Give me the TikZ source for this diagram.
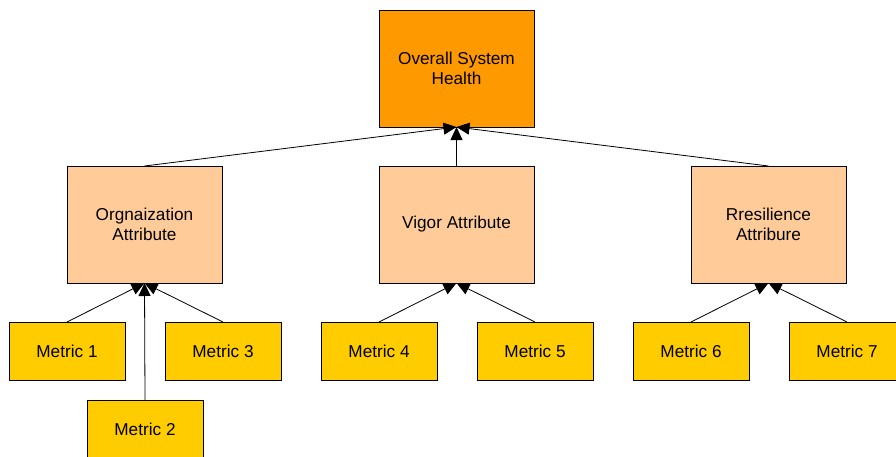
\documentclass[tikz,border=0pt]{standalone}
\usepackage{fontspec}
\setmainfont{Liberation Sans}
\usetikzlibrary{arrows.meta}
\definecolor{topc}{HTML}{FF9900}
\definecolor{attrc}{HTML}{FFCC99}
\definecolor{metc}{HTML}{FFCC00}
\begin{document}
\begin{tikzpicture}[x=1pt,y=-1pt,
  box/.style={draw=black,line width=0.9pt,inner sep=0pt,outer sep=0pt,align=center,
    font=\fontsize{17.2}{20.5}\selectfont},
  topbox/.style={box,fill=topc,minimum width=155pt,minimum height=117pt},
  attrbox/.style={box,fill=attrc,minimum width=155pt,minimum height=117pt},
  metbox/.style={box,fill=metc,minimum width=116pt,minimum height=58pt},
  link/.style={draw=black,line width=0.8pt,-{Triangle[length=13pt,width=12pt]}}]
\useasboundingbox (0,0) rectangle (896,456);
\clip (0,0) rectangle (896,456);
\node[topbox] (top) at (456.5,68.5) {Overall System\\Health};
\node[attrbox] (org) at (144.5,224.5) {Orgnaization\\Attribute};
\node[attrbox] (vig) at (456.5,224.5) {Vigor Attribute};
\node[attrbox] (res) at (768.5,224.5) {Rresilience\\Attribure};
\node[metbox] (m1) at (67,351) {Metric 1};
\node[metbox] (m3) at (223,351) {Metric 3};
\node[metbox] (m2) at (145,429) {Metric 2};
\node[metbox] (m4) at (379,351) {Metric 4};
\node[metbox] (m5) at (535,351) {Metric 5};
\node[metbox] (m6) at (691,351) {Metric 6};
\node[metbox] (m7) at (847,351) {Metric 7};
\draw[link] (org.north) -- (top.south);
\draw[link] (vig.north) -- (top.south);
\draw[link] (res.north) -- (top.south);
\draw[link] (m1.north) -- (org.south);
\draw[link] (m2.north) -- (org.south);
\draw[link] (m3.north) -- (org.south);
\draw[link] (m4.north) -- (vig.south);
\draw[link] (m5.north) -- (vig.south);
\draw[link] (m6.north) -- (res.south);
\draw[link] (m7.north) -- (res.south);
\end{tikzpicture}
\end{document}
